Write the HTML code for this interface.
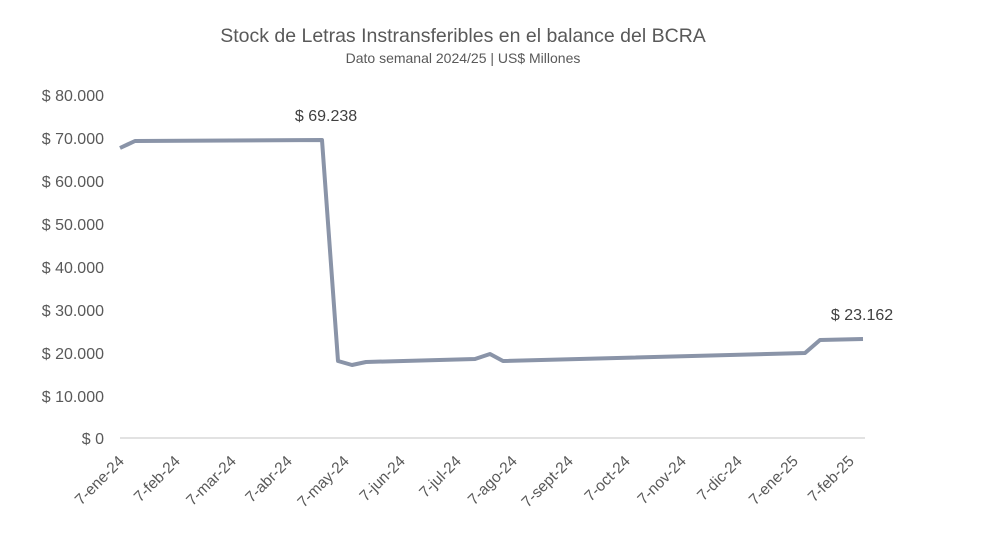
<!DOCTYPE html>
<html><head><meta charset="utf-8"><style>
html,body{margin:0;padding:0;background:#fff;}
svg{display:block;font-family:"Liberation Sans",sans-serif;}
</style></head><body>
<svg width="1000" height="552" viewBox="0 0 1000 552">
<text x="463" y="42" text-anchor="middle" font-size="19.5" fill="#595959">Stock de Letras Instransferibles en el balance del BCRA</text>
<text x="463" y="63" text-anchor="middle" font-size="14" fill="#595959">Dato semanal 2024/25 | US$ Millones</text>
<g font-size="16" fill="#595959" text-anchor="end">
<text x="104" y="101">$ 80.000</text>
<text x="104" y="144">$ 70.000</text>
<text x="104" y="187">$ 60.000</text>
<text x="104" y="230">$ 50.000</text>
<text x="104" y="273">$ 40.000</text>
<text x="104" y="316">$ 30.000</text>
<text x="104" y="359">$ 20.000</text>
<text x="104" y="402">$ 10.000</text>
<text x="104" y="444">$ 0</text>
</g>
<line x1="120" y1="438" x2="865" y2="438" stroke="#d9d9d9" stroke-width="1.5"/>
<g font-size="15.5" fill="#595959" text-anchor="end">
<text transform="translate(125,462) rotate(-45)">7-ene-24</text>
<text transform="translate(181,462) rotate(-45)">7-feb-24</text>
<text transform="translate(237,462) rotate(-45)">7-mar-24</text>
<text transform="translate(293,462) rotate(-45)">7-abr-24</text>
<text transform="translate(350,462) rotate(-45)">7-may-24</text>
<text transform="translate(406,462) rotate(-45)">7-jun-24</text>
<text transform="translate(462,462) rotate(-45)">7-jul-24</text>
<text transform="translate(518,462) rotate(-45)">7-ago-24</text>
<text transform="translate(574,462) rotate(-45)">7-sept-24</text>
<text transform="translate(631,462) rotate(-45)">7-oct-24</text>
<text transform="translate(687,462) rotate(-45)">7-nov-24</text>
<text transform="translate(743,462) rotate(-45)">7-dic-24</text>
<text transform="translate(799,462) rotate(-45)">7-ene-25</text>
<text transform="translate(855,462) rotate(-45)">7-feb-25</text>
</g>
<polyline fill="none" stroke="#8a94a8" stroke-width="4" stroke-linejoin="round" points="120,148 135,141 322,140 338,361 352,365 366,362 475,359 490,354 503,361 805,353 820,340 863,339"/>
<text x="326" y="121" text-anchor="middle" font-size="16" fill="#404040">$ 69.238</text>
<text x="862" y="320" text-anchor="middle" font-size="16" fill="#404040">$ 23.162</text>
</svg>
</body></html>
